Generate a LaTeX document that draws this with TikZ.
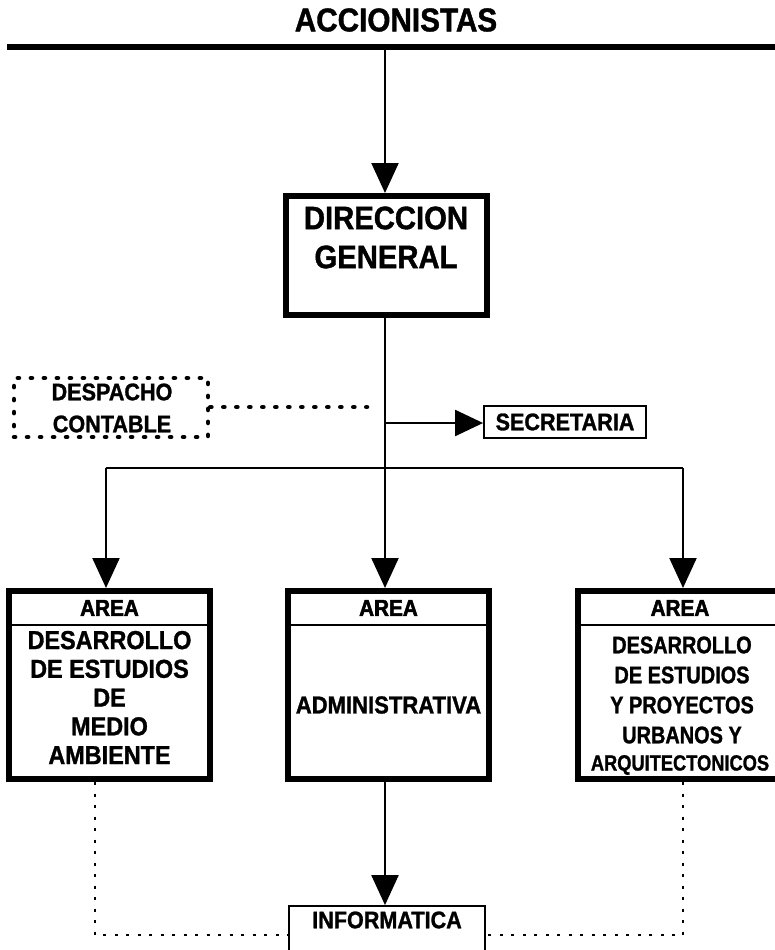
\documentclass[tikz,border=0pt]{standalone}
\usepackage{fontspec}
\setmainfont{Liberation Sans}[FakeStretch=0.9,FakeBold=1.2]
\newfontfamily\narrowfont{Liberation Sans}[FakeStretch=0.83,FakeBold=1.2]
\newfontfamily\heavyfont{Liberation Sans}[FakeStretch=0.9,FakeBold=2.2]
\usetikzlibrary{arrows.meta}
\tikzset{
  conn/.style={line width=2.2pt},
  arr/.style={conn,-{Triangle[length=30pt,width=27pt]}},
  thickbox/.style={draw,line width=6pt,inner sep=0pt},
  thinbox/.style={draw,line width=1.8pt,inner sep=0pt},
  dotthick/.style={line width=4.5pt,dash pattern=on 1.2pt off 11.8pt,line cap=round},
  dotbox/.style={draw,dotthick,inner sep=0pt},
  dotline/.style={line width=2pt,dash pattern=on 3pt off 8.5pt},
  lbl/.style={inner sep=0pt,align=center},
  areahead/.style={lbl,font=\heavyfont\fontsize{23}{28}\selectfont\bfseries}
}
\begin{document}
\begin{tikzpicture}[x=1pt,y=-1pt]
\useasboundingbox (0,0) rectangle (774,950);
% top
\node[lbl,font=\fontsize{33}{38}\selectfont\bfseries] (acc) at (396,20) {ACCIONISTAS};
\coordinate (tl) at (7,47);
\coordinate (tr) at (790,47);
\draw[line width=6pt] (tl) -- (tr);
\coordinate (spine) at (385,47);
% direccion general
\node[thickbox,minimum width=201pt,minimum height=119pt] (dg) at (386.5,255.5) {};
\node[lbl,font=\fontsize{32.5}{39}\selectfont\bfseries] (dgt) at (386,237.5) {DIRECCION\\GENERAL};
\draw[arr] (spine) -- (spine |- dg.north);
% despacho contable
\node[dotbox,minimum width=194pt,minimum height=59pt] (desp) at (111,407.5) {};
\node[lbl,font=\fontsize{24}{32}\selectfont\bfseries] (despt) at (112,408) {DESPACHO\\CONTABLE};
\coordinate (despend) at (367,407);
\draw[dotthick] (desp.east |- despend) -- (despend);
% secretaria
\node[thinbox,minimum width=162pt,minimum height=32pt,font=\fontsize{24}{28}\selectfont\bfseries] (sec) at (565,422) {SECRETARIA};
\coordinate (sj) at (385,423);
\draw[conn,-{Triangle[length=28pt,width=26pt]}] (sj) -- (sec.west |- sj);
% area boxes
\node[thickbox,minimum width=201pt,minimum height=188pt] (L) at (109.5,685) {};
\node[thickbox,minimum width=201pt,minimum height=188pt] (M) at (388.5,685) {};
\node[thickbox,minimum width=208pt,minimum height=188pt] (R) at (682,685) {};
\foreach \b in {L,M,R}{
  \draw[line width=2pt] ([yshift=-37pt]\b.north west) -- ([yshift=-37pt]\b.north east);
}
\node[areahead] (Lh) at (109.5,608) {AREA};
\node[areahead] (Mh) at (388.5,608) {AREA};
\node[areahead] (Rh) at (680,608) {AREA};
\node[lbl,font=\fontsize{26}{28.75}\selectfont\bfseries] (Lt) at (109.5,697.5)
  {DESARROLLO\\DE ESTUDIOS\\DE\\MEDIO\\AMBIENTE};
\node[lbl,font=\fontsize{24.5}{28}\selectfont\bfseries] (Mt) at (388.5,705) {ADMINISTRATIVA};
\node[lbl,font=\narrowfont\fontsize{24}{30}\selectfont\bfseries] (Rt) at (682,690)
  {DESARROLLO\\DE ESTUDIOS\\Y PROYECTOS\\URBANOS Y};
\node[lbl,font=\narrowfont\fontsize{22}{30}\selectfont\bfseries] (Rt2) at (680,765) {ARQUITECTONICOS};
% branches
\coordinate (bl) at (106,468);
\coordinate (br) at (683,468);
\draw[conn] (bl) -- (br);
\draw[arr] (bl) -- (bl |- L.north);
\draw[arr] (br) -- (br |- R.north);
\draw[arr] (spine |- dg.south) -- (spine |- M.north);
% informatica
\node[thinbox,minimum width=196pt,minimum height=64pt] (info) at (387,938) {};
\node[lbl,font=\fontsize{24}{28}\selectfont\bfseries] (infot) at (387,920) {INFORMATICA};
\draw[arr] (spine |- M.south) -- (spine |- info.north);
\coordinate (dj) at (0,935);
\draw[dotline] ([xshift=-14.5pt]L.south) |- (info.west |- dj);
\draw[dotline] (R.south -| br) |- (info.east |- dj);
\end{tikzpicture}
\end{document}
